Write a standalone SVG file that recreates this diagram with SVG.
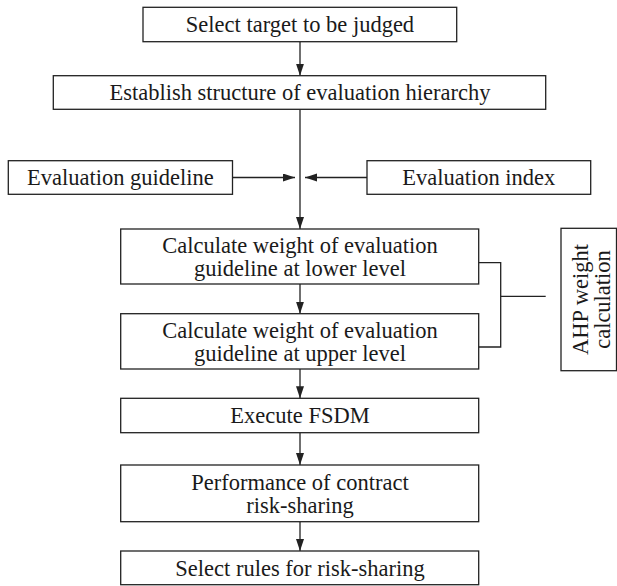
<svg xmlns="http://www.w3.org/2000/svg" width="617" height="586" viewBox="0 0 617 586">
<style>
.box{fill:#fff;stroke:#222;stroke-width:1.3}
.ln{fill:none;stroke:#222;stroke-width:1.3}
.t{font-size:22.5px;fill:#1a1a1a;text-anchor:middle}
</style>
<defs>
<marker id="ah" markerUnits="userSpaceOnUse" markerWidth="12" markerHeight="9" refX="12" refY="4" orient="auto">
<path d="M0,0 L12,4 L0,8 z" fill="#222"/>
</marker>
</defs>
<rect width="617" height="586" fill="#fff"/>
<g id="connectors">
<line class="ln" x1="300" y1="41.7" x2="300" y2="75.7" marker-end="url(#ah)"/>
<line class="ln" x1="300" y1="109.3" x2="300" y2="229" marker-end="url(#ah)"/>
<line class="ln" x1="232.5" y1="177.5" x2="295" y2="177.5" marker-end="url(#ah)"/>
<line class="ln" x1="367" y1="177.5" x2="305" y2="177.5" marker-end="url(#ah)"/>
<line class="ln" x1="300" y1="284" x2="300" y2="313.7" marker-end="url(#ah)"/>
<line class="ln" x1="300" y1="369" x2="300" y2="398.3" marker-end="url(#ah)"/>
<line class="ln" x1="300" y1="432.7" x2="300" y2="465" marker-end="url(#ah)"/>
<line class="ln" x1="300" y1="521.7" x2="300" y2="551" marker-end="url(#ah)"/>
<polyline class="ln" points="479,262.7 500.7,262.7 500.7,347 479,347"/>
<line class="ln" x1="500.7" y1="296.3" x2="545.7" y2="296.3"/>
</g>
<g font-family="Liberation Serif, Tinos, Times New Roman, DejaVu Serif, serif">
<g id="n1"><rect class="box" x="143" y="7.3" width="313.7" height="34.4"/><text class="t" x="300" y="32">Select target to be judged</text></g>
<g id="n2"><rect class="box" x="53.3" y="75.7" width="492.4" height="33.6"/><text class="t" x="300" y="100">Establish structure of evaluation hierarchy</text></g>
<g id="n_guideline"><rect class="box" x="8.3" y="160.7" width="224.2" height="33.6"/><text class="t" x="120.4" y="185">Evaluation guideline</text></g>
<g id="n_index"><rect class="box" x="367" y="160.7" width="223.7" height="33.6"/><text class="t" x="478.8" y="185">Evaluation index</text></g>
<g id="n3"><rect class="box" x="120.7" y="229" width="358" height="55"/><text class="t" x="300" y="252.8">Calculate weight of evaluation</text><text class="t" x="300" y="275.8">guideline at lower level</text></g>
<g id="n4"><rect class="box" x="120.7" y="313.7" width="358" height="55.3"/><text class="t" x="300" y="337.6">Calculate weight of evaluation</text><text class="t" x="300" y="360.6">guideline at upper level</text></g>
<g id="n5"><rect class="box" x="120.7" y="398.3" width="358" height="34.4"/><text class="t" x="300" y="423">Execute FSDM</text></g>
<g id="n6"><rect class="box" x="120.7" y="465" width="358" height="56.7"/><text class="t" x="300" y="489.5">Performance of contract</text><text class="t" x="300" y="512.5">risk-sharing</text></g>
<g id="n7"><rect class="box" x="120.7" y="551" width="358" height="33.7"/><text class="t" x="300" y="575.5">Select rules for risk-sharing</text></g>
<g id="n_ahp"><rect class="box" x="561" y="228.3" width="55.5" height="142.4"/><text class="t" transform="translate(587.5,299.5) rotate(-90)" x="0" y="0">AHP weight</text><text class="t" transform="translate(610,299.5) rotate(-90)" x="0" y="0">calculation</text></g>
</g>
</svg>
